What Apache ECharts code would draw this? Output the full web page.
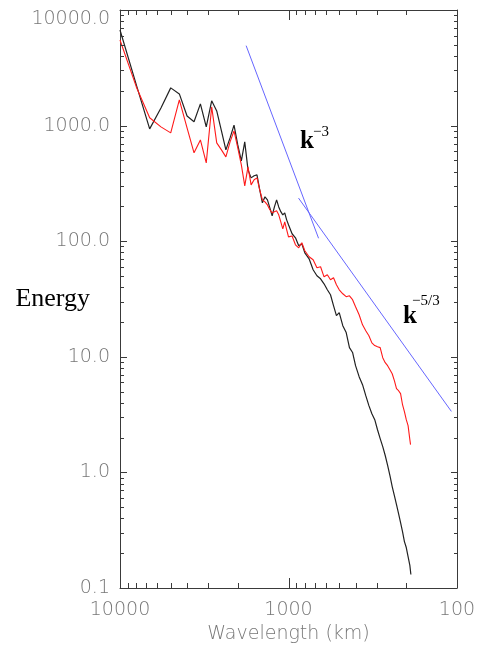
<!DOCTYPE html>
<html>
<head>
<meta charset="utf-8">
<script src="https://cdn.jsdelivr.net/npm/echarts@6/dist/echarts.min.js"></script>
<style>
  html, body { margin: 0; padding: 0; background: #fff; }
  #chart { width: 477px; height: 646px; }
</style>
</head>
<body>
<div id="chart"></div>
<script>
// spectral wavenumber n, wavelength = 40000 km / n
const blackWaveNumbers = [
  4, 5, 6, 7, 8, 9, 10, 11, 12, 13, 14, 15, 16, 17, 18, 19, 20, 21, 22, 23, 24, 25, 26, 27, 28, 29, 30,
  31, 32, 33, 34, 35, 36, 37, 38, 39, 40, 42, 44, 46, 48, 50, 53, 56, 59, 62, 65, 68, 71, 74, 77, 80,
  84, 88, 92, 96, 100, 105, 110, 115, 120, 125, 130, 135, 140, 145, 150, 155, 160, 165, 170, 175, 180,
  185, 190, 195, 200, 205, 210, 213
];
const blackEnergy = [
  6720, 2250, 937, 1420, 2120, 1880, 1210, 1080, 1540, 975, 1640, 1340, 900, 617, 783, 1010, 681, 495,
  723, 414, 353, 368, 375, 278, 215, 242, 228, 194, 166, 198, 228, 198, 180, 169, 176, 153, 139,
  116, 107, 91.3, 94.9, 79.4, 70.4, 56.6, 50.2, 47.3, 42.8, 38.0, 34.4, 27.7, 22.7, 24.1,
  18.6, 16.2, 12.0, 10.9, 8.38, 6.73, 5.74, 4.61, 3.78, 3.22, 2.86, 2.34, 1.96, 1.67, 1.40, 1.15, 0.938,
  0.754, 0.630, 0.527, 0.440, 0.368, 0.308, 0.252, 0.224, 0.187, 0.157, 0.131
];
const redWaveNumbers = [
  4, 5, 6, 7, 8, 9, 10, 11, 12, 13, 14, 15, 16, 17, 18, 19, 20, 21, 22, 23, 24, 25, 26, 27, 28, 29, 30,
  31, 32, 33, 34, 35, 36, 37, 38, 39, 40, 42, 44, 46, 48, 50, 53, 56, 59, 62, 65, 68, 71, 74, 77, 80,
  84, 88, 92, 96, 100, 105, 110, 115, 120, 125, 130, 135, 140, 145, 150, 155, 160, 165, 170, 175, 180,
  185, 190, 195, 200, 205, 210, 212
];
const redEnergy = [
  5500, 2160, 1170, 975, 865, 1670, 955, 581, 752, 476, 1450, 709, 617, 536, 723, 900, 642, 458,
  301, 440, 307, 340, 353, 278, 228, 219, 206, 187, 176, 180, 183, 169, 147, 128, 147, 126, 109,
  111, 93.1, 87.7, 96.9, 82.6, 73.3, 69.1, 58.9, 60.1, 49.2, 51.2, 46.4, 48.3, 42.0, 38.0,
  35.1, 33.1, 33.7, 31.2, 27.1, 23.1, 18.9, 16.8, 15.2, 13.2, 12.5, 12.2, 12.0, 9.82, 8.89, 8.38, 7.74,
  7.14, 6.22, 5.30, 5.09, 4.80, 3.85, 3.35, 2.86, 2.54, 1.92, 1.74
];

// reference slope lines (end points)
const slope3Wavelength = [1784, 663];
const slope3Energy = [4914, 106];
const slope53Wavelength = [872, 108];
const slope53Energy = [236, 3.37];

const xMajorTicks = [100, 1000, 10000];
const yMajorTicks = [0.1, 1, 10, 100, 1000, 10000];
const tickMantissas = [2, 3, 4, 5, 6, 7, 8, 9];

function minorTicks(decades) {
  return decades.flatMap(d => tickMantissas.map(m => +(m * d).toPrecision(6)));
}
const xMinorTicks = minorTicks([100, 1000]);
const yMinorTicks = minorTicks([0.1, 1, 10, 100, 1000]);

const axisColor = '#3a3a3a';
const lineStyleAxis = { color: axisColor, width: 1 };
const labelStyle = { color: '#777', fontFamily: 'DejaVu Sans', fontWeight: 300, fontSize: 19 };

function frameAxis(kind, position) {
  const range = kind === 'x'
    ? { min: 100, max: 10000, inverse: true }
    : { min: 0.1, max: 10000 };
  return Object.assign({
    type: 'log',
    logBase: 10,
    position: position,
    axisLine: { show: true, onZero: false, lineStyle: lineStyleAxis },
    axisTick: { show: false },
    axisLabel: { show: false },
    splitLine: { show: false },
    minorTick: { show: false },
    axisPointer: { show: false }
  }, range);
}

const xMain = frameAxis('x', 'bottom');
xMain.axisLabel = Object.assign({
  show: true,
  customValues: xMajorTicks,
  margin: 13,
  showMinLabel: true,
  showMaxLabel: true,
  formatter: v => String(Math.round(v))
}, labelStyle);
xMain.name = 'Wavelength (km)';
xMain.nameLocation = 'middle';
xMain.nameGap = 37;
xMain.nameMoveOverlap = false;
xMain.nameTextStyle = Object.assign({}, labelStyle);

const yMain = frameAxis('y', 'left');
yMain.axisLabel = Object.assign({
  show: true,
  customValues: yMajorTicks,
  margin: 10,
  showMinLabel: true,
  showMaxLabel: true,
  verticalAlignMaxLabel: 'top',
  formatter: v => v.toFixed(1)
}, labelStyle);
yMain.name = 'Energy';
yMain.nameLocation = 'middle';
yMain.nameRotate = 0;
yMain.nameGap = 30;
yMain.nameMoveOverlap = false;
yMain.nameTextStyle = {
  color: '#000', fontFamily: 'Liberation Serif', fontSize: 26,
  align: 'right', verticalAlign: 'middle'
};

// inward tick marks on all four sides, placed through the axes' scales
function tickSeries(dim, values, length) {
  return {
    type: 'custom',
    silent: true,
    clip: false,
    z: 5,
    data: values.map(v => (dim === 'x' ? [v, 1] : [1000, v])),
    renderItem: function (params, api) {
      const cs = params.coordSys;
      const style = { stroke: axisColor, lineWidth: 1 };
      if (dim === 'x') {
        const px = Math.round(api.coord([api.value(0), 1])[0]) + 0.5;
        const yb = cs.y + cs.height;
        return {
          type: 'group', children: [
            { type: 'line', shape: { x1: px, y1: yb, x2: px, y2: yb - length }, style: style },
            { type: 'line', shape: { x1: px, y1: cs.y, x2: px, y2: cs.y + length }, style: style }
          ]
        };
      }
      const py = Math.round(api.coord([1000, api.value(1)])[1]) + 0.5;
      const xr = cs.x + cs.width;
      return {
        type: 'group', children: [
          { type: 'line', shape: { x1: cs.x, y1: py, x2: cs.x + length, y2: py }, style: style },
          { type: 'line', shape: { x1: xr, y1: py, x2: xr - length + 1, y2: py }, style: style }
        ]
      };
    }
  };
}

function toPairs(waveNumbers, energy) {
  return waveNumbers.map((n, i) => [40000 / n, energy[i]]);
}

const chart = echarts.init(document.getElementById('chart'), null, { renderer: 'canvas' });

chart.setOption({
  animation: false,
  backgroundColor: '#fff',
  grid: { left: 120, right: 20, top: 10, bottom: 58, containLabel: false, outerBoundsMode: 'none' },
  xAxis: [xMain, frameAxis('x', 'top')],
  yAxis: [yMain, frameAxis('y', 'right')],
  series: [
    {
      type: 'line', name: 'black', symbol: 'none', clip: true,
      data: toPairs(blackWaveNumbers, blackEnergy),
      lineStyle: { color: '#222', width: 1.2 }
    },
    {
      type: 'line', name: 'red', symbol: 'none', clip: true,
      data: toPairs(redWaveNumbers, redEnergy),
      lineStyle: { color: '#ff1a1a', width: 1.1 }
    },
    {
      type: 'line', name: 'k-3', symbol: 'none',
      data: slope3Wavelength.map((w, i) => [w, slope3Energy[i]]),
      lineStyle: { color: '#6666ff', width: 1 }
    },
    {
      type: 'line', name: 'k-5/3', symbol: 'none',
      data: slope53Wavelength.map((w, i) => [w, slope53Energy[i]]),
      lineStyle: { color: '#6666ff', width: 1 }
    },
    tickSeries('x', xMajorTicks, 10),
    tickSeries('x', xMinorTicks, 5),
    tickSeries('y', yMajorTicks, 7),
    tickSeries('y', yMinorTicks, 4)
  ],
  graphic: [
    { type: 'text', x: 300, y: 142, style: { text: 'k', font: 'bold 25px "Liberation Serif"', fill: '#000', align: 'left', verticalAlign: 'middle' } },
    { type: 'text', x: 313, y: 132.5, style: { text: '\u22123', font: '15px "Liberation Serif"', fill: '#000', align: 'left', verticalAlign: 'middle' } },
    { type: 'text', x: 403, y: 316.5, style: { text: 'k', font: 'bold 25px "Liberation Serif"', fill: '#000', align: 'left', verticalAlign: 'middle' } },
    { type: 'text', x: 412, y: 301, style: { text: '\u22125/3', font: '15px "Liberation Serif"', fill: '#000', align: 'left', verticalAlign: 'middle' } }
  ]
});
</script>
</body>
</html>
